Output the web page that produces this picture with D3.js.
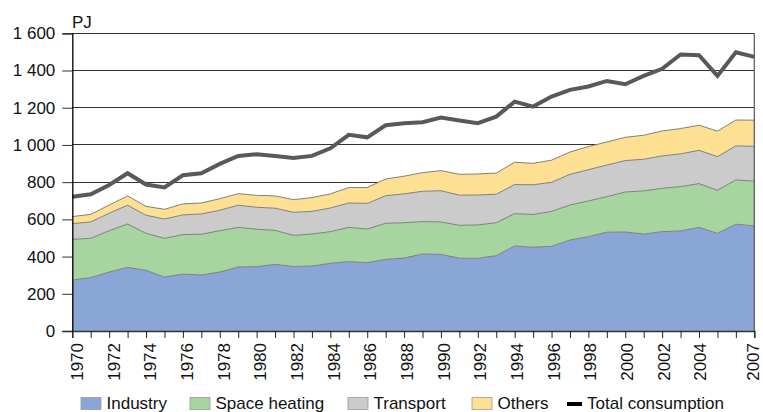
<!DOCTYPE html>
<html>
<head>
<meta charset="utf-8">
<script src="https://cdn.jsdelivr.net/npm/d3@7/dist/d3.min.js"></script>
<style>
  html, body { margin: 0; padding: 0; background: #fff; }
  svg text { font-family: "Liberation Sans", Arial, sans-serif; fill: #111; }
</style>
</head>
<body>
<svg id="chart" width="763" height="412"></svg>
<script>
const years = d3.range(1970, 2008);
const industry = [274,287,317,342,326,290,306,301,317,344,346,358,347,349,364,373,367,385,392,414,412,391,391,405,457,450,455,489,507,531,532,521,534,538,557,525,574,565];
const spaceHeating = [219,211,222,233,199,208,212,219,222,213,201,183,167,172,170,184,181,194,190,174,174,177,179,177,174,176,188,188,192,191,215,232,233,238,235,231,238,240];
const transport = [84,88,94,101,97,104,106,109,110,119,118,119,124,122,127,131,138,148,155,163,168,162,161,153,156,160,156,165,168,170,169,170,174,176,179,181,183,188];
const others = [38,41,44,50,48,52,59,59,62,62,64,66,68,74,76,83,85,90,95,100,108,112,113,114,120,115,119,120,124,124,125,129,134,136,135,137,139,140];
const total = [722,735,785,848,787,772,837,848,898,941,950,941,930,941,982,1054,1041,1106,1117,1122,1147,1131,1117,1152,1233,1206,1260,1296,1314,1344,1326,1371,1409,1486,1482,1371,1498,1473];
const yTicks = [0,200,400,600,800,1000,1200,1400,1600];
const xLabelYears = [1970,1972,1974,1976,1978,1980,1982,1984,1986,1988,1990,1992,1994,1996,1998,2000,2002,2004,2007];
const seriesNames = ["Industry","Space heating","Transport","Others"];
const colors = ["#8aa6d6","#a6d5a0","#cbcbcb","#fde092"];

const svg = d3.select("#chart");
const L = 72.3, R = 754.3, T = 33.3, B = 331;
const x = d3.scaleLinear().domain([1970, 2007]).range([L, R]);
const y = d3.scaleLinear().domain([0, 1600]).range([B, T]);

const table = years.map((yr, i) => ({
  year: yr, "Industry": industry[i], "Space heating": spaceHeating[i],
  "Transport": transport[i], "Others": others[i], total: total[i]
}));
const stacked = d3.stack().keys(seriesNames)(table);

// gridlines
svg.append("g").selectAll("line").data(yTicks.filter(v => v > 0)).join("line")
  .attr("x1", L).attr("x2", R).attr("y1", d => y(d)).attr("y2", d => y(d))
  .attr("stroke", "#333").attr("stroke-width", 1).attr("shape-rendering", "crispEdges");

// areas
const area = d3.area().x(d => x(d.data.year)).y0(d => y(d[0])).y1(d => y(d[1]));
svg.append("g").selectAll("path").data(stacked).join("path")
  .attr("d", area).attr("fill", (d, i) => colors[i]);
const topLine = d3.line().x(d => x(d.data.year)).y(d => y(d[1]));
svg.append("g").selectAll("path").data(stacked).join("path")
  .attr("d", topLine).attr("fill", "none").attr("stroke", "#808080").attr("stroke-width", 1);

// right border
svg.append("line").attr("x1", R).attr("x2", R).attr("y1", T).attr("y2", B)
  .attr("stroke", "#555").attr("stroke-width", 1.2);

// total line
const line = d3.line().x(d => x(d.year)).y(d => y(d.total));
svg.append("path").datum(table).attr("d", line).attr("fill", "none")
  .attr("stroke", "#595959").attr("stroke-width", 4).attr("stroke-linejoin", "miter");

// y axis
const yAxis = svg.append("g").attr("transform", `translate(${L},0)`)
  .call(d3.axisLeft(y).tickValues(yTicks).tickSize(10).tickPadding(7)
    .tickFormat(d => d3.format(",")(d).replace(/,/g, " ")));
yAxis.select(".domain").attr("stroke", "#000").attr("stroke-width", 1.3);
yAxis.selectAll(".tick line").attr("stroke", "#333");
yAxis.selectAll("text").attr("font-size", 17).attr("fill", "#111")
  .attr("font-family", "'Liberation Sans', Arial, sans-serif");

// x axis
const xAxis = svg.append("g").attr("transform", `translate(0,${B})`)
  .call(d3.axisBottom(x).tickValues(years).tickSize(7).tickFormat(""));
xAxis.select(".domain").attr("stroke", "#333").attr("stroke-width", 1.3);
xAxis.selectAll(".tick line").attr("stroke", "#222");
svg.append("g").selectAll("text").data(xLabelYears).join("text")
  .attr("transform", d => `translate(${Math.min(x(d) + 10.8 - (d - 1970) * 0.1, 758.5)},${B + 12}) rotate(-90)`)
  .attr("text-anchor", "end").attr("font-size", 17).text(d => d);

// PJ label
svg.append("text").attr("x", 72).attr("y", 28).attr("font-size", 17).text("PJ");

// legend
const legend = svg.append("g");
const swX = [81, 190, 348, 472];
seriesNames.forEach((n, i) => {
  legend.append("rect").attr("x", swX[i]).attr("y", 397.5).attr("width", 20).attr("height", 12)
    .attr("fill", colors[i]).attr("stroke", "#999").attr("stroke-width", 0.8);
  legend.append("text").attr("x", swX[i] + 25.5).attr("y", 409).attr("font-size", 17).text(n);
});
legend.append("line").attr("x1", 567).attr("x2", 582).attr("y1", 404).attr("y2", 404)
  .attr("stroke", "#000").attr("stroke-width", 4);
legend.append("text").attr("x", 587).attr("y", 409).attr("font-size", 17).text("Total consumption");
</script>
</body>
</html>
